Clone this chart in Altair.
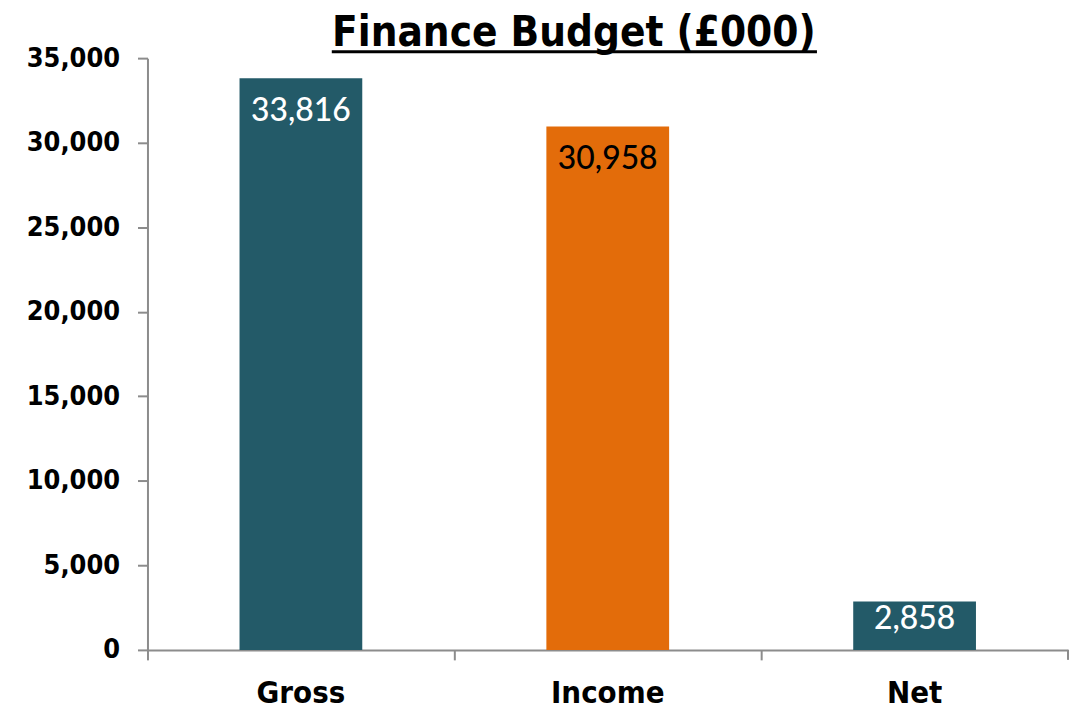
import altair as alt
import pandas as pd

categories = ["Gross", "Income", "Net"]
values = [33816, 30958, 2858]
title_text = "Finance Budget (£000)"
y_ticks = [0, 5000, 10000, 15000, 20000, 25000, 30000, 35000]

TEAL = "#235A68"
ORANGE = "#E36C0A"
AXIS = "#8C8C8C"
AXFONT = "DejaVu Sans Condensed, DejaVu Sans, sans-serif"

df = pd.DataFrame({"category": categories, "value": values})

W, H = 924, 594

x = alt.X("category:N", sort=categories, title=None,
          scale=alt.Scale(paddingInner=0, paddingOuter=0),
          axis=alt.Axis(labelFont=AXFONT, labelFontSize=31, labelFontWeight="bold",
                        labelColor="black", labelPadding=19, labelAngle=0,
                        domainColor=AXIS, domainWidth=2, tickColor=AXIS, tickWidth=2,
                        tickSize=10, bandPosition=0, grid=False))
y = alt.Y("value:Q", title=None,
          scale=alt.Scale(domain=[0, 35000], nice=False),
          axis=alt.Axis(values=y_ticks, format=",.0f", labelFont=AXFONT, labelFontSize=27,
                        labelFontWeight="bold", labelColor="black", labelPadding=18,
                        domainColor=AXIS, domainWidth=2, tickColor=AXIS, tickWidth=2,
                        tickSize=10, grid=False))

base = alt.Chart(df)

bars = base.mark_bar(width=alt.RelativeBandSize(0.4)).encode(
    x=x, y=y,
    color=alt.Color("category:N", scale=alt.Scale(domain=categories, range=[TEAL, ORANGE, TEAL]), legend=None),
)

labels = base.transform_calculate(
    labely="max(datum.value, 3750)"
).mark_text(font="Lato", fontSize=32, fontWeight=500, baseline="middle", dy=33).encode(
    x=alt.X("category:N", sort=categories),
    y=alt.Y("labely:Q"),
    text=alt.Text("value:Q", format=",.0f"),
    color=alt.condition(alt.datum.category == "Income", alt.value("black"), alt.value("white")),
)

one = alt.Data(values=[{"t": title_text}])

title = alt.Chart(one).mark_text(font=AXFONT, fontSize=42, fontWeight="bold",
                                 baseline="alphabetic", align="center").encode(
    x=alt.value(428), y=alt.value(-12), text="t:N")

underline = alt.Chart(one).mark_rule(color="black", strokeWidth=3).encode(
    x=alt.value(185), x2=alt.value(672), y=alt.value(-6.5))

end_tick = alt.Chart(one).mark_rule(color=AXIS, strokeWidth=2).encode(
    x=alt.value(W), y=alt.value(H), y2=alt.value(H + 10))

chart = alt.layer(bars, labels, title, underline, end_tick).properties(
    width=W, height=H,
    autosize=alt.AutoSizeParams(type="none"),
    padding={"left": 140, "top": 49, "right": 4, "bottom": 60},
).configure_view(stroke=None)

chart.save("out.html", embed_options={"renderer": "svg", "actions": False})
